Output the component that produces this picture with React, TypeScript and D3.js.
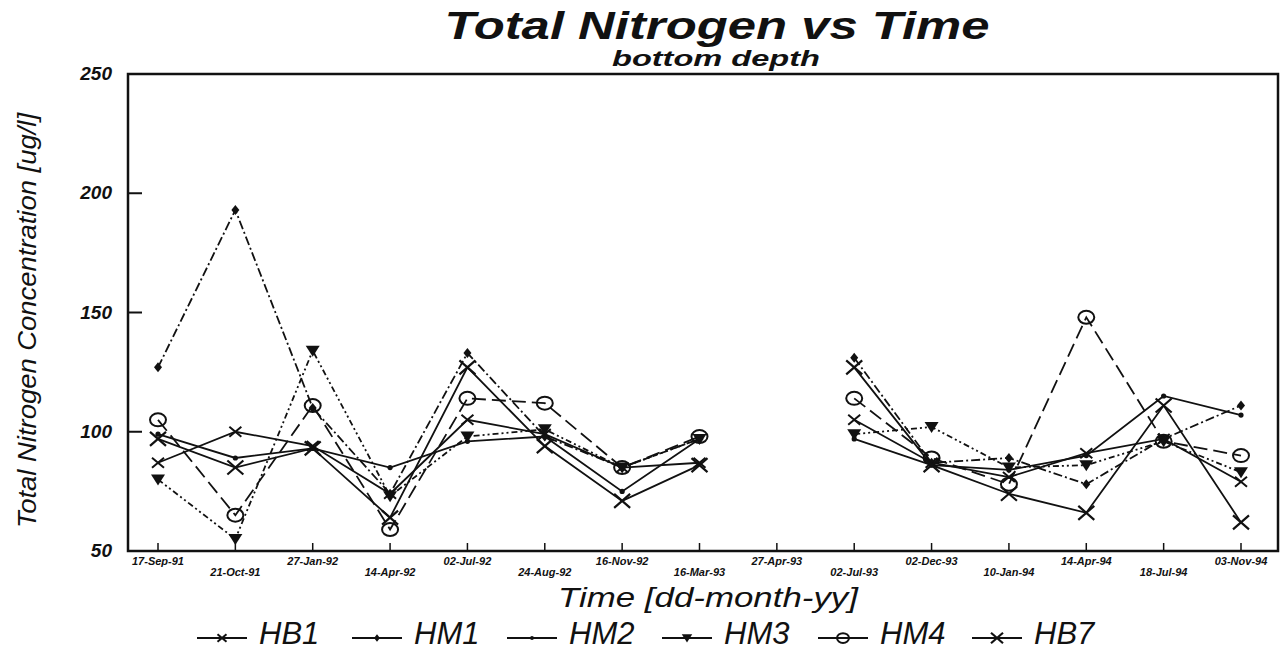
import React from 'react';
import * as d3 from 'd3';

const dates = [
    '17-Sep-91', '21-Oct-91', '27-Jan-92', '14-Apr-92', '02-Jul-92',
    '24-Aug-92', '16-Nov-92', '16-Mar-93', '27-Apr-93', '02-Jul-93',
    '02-Dec-93', '10-Jan-94', '14-Apr-94', '18-Jul-94', '03-Nov-94',
];

const hb1 = [87, 100, 94, 74, 105, 99, 85, 87, null, 105, 87, 81, 91, 97, 79];
const hm1 = [127, 193, 110, 74, 133, 98, 85, 97, null, 131, 87, 89, 78, 97, 111];
const hm2 = [99, 89, 93, 85, 96, 98, 75, 97, null, 97, 86, 84, 90, 115, 107];
const hm3 = [80, 55, 134, 73, 98, 101, 85, 97, null, 99, 102, 85, 86, 96, 83];
const hm4 = [105, 65, 111, 59, 114, 112, 85, 98, null, 114, 89, 78, 148, 96, 90];
const hb7 = [97, 85, 93, 64, 127, 94, 71, 86, null, 127, 86, 74, 66, 111, 62];

const seriesNames = ['HB1', 'HM1', 'HM2', 'HM3', 'HM4', 'HB7'];
const seriesValues = [hb1, hm1, hm2, hm3, hm4, hb7];
const yTicks = [50, 100, 150, 200, 250];

// line dash + marker per series
const dashes = ['', '9,3,2,3', '', '6,3,2,3,2,3', '14,6', ''];
const markers = ['x', 'diamond', 'dot', 'tri', 'circle', 'X'];

const font = '"Liberation Sans", Arial, sans-serif';

const Marker: React.FC<{ kind: string; x: number; y: number; small?: boolean }> = ({ kind, x, y, small }) => {
    const stroke = '#111';
    const k = small ? 0.75 : 1;
    switch (kind) {
        case 'x':
            return <path d={`M${x - 6 * k},${y - 5 * k}L${x + 6 * k},${y + 5 * k}M${x - 6 * k},${y + 5 * k}L${x + 6 * k},${y - 5 * k}`} stroke={stroke} strokeWidth={2} />;
        case 'X':
            return <path d={`M${x - 8 * k},${y - 7 * k}L${x + 8 * k},${y + 7 * k}M${x - 8 * k},${y + 7 * k}L${x + 8 * k},${y - 7 * k}`} stroke={stroke} strokeWidth={2.2} />;
        case 'diamond':
            return <path d={`M${x},${y - 5 * k}L${x + 4 * k},${y}L${x},${y + 5 * k}L${x - 4 * k},${y}Z`} fill={stroke} />;
        case 'dot':
            return <circle cx={x} cy={y} r={2.6 * k} fill={stroke} />;
        case 'tri':
            return <path d={`M${x - 7 * k},${y - 5 * k}L${x + 7 * k},${y - 5 * k}L${x},${y + 6 * k}Z`} fill={stroke} />;
        case 'circle':
            return <ellipse cx={x} cy={y} rx={8 * k} ry={6.5 * k} fill="none" stroke={stroke} strokeWidth={2} />;
        default:
            return null;
    }
};

export default function App() {
    const width = 1286;
    const height = 656;
    const left = 128, right = 1278, top = 74, bottom = 551;

    const x = d3.scalePoint<string>().domain(dates).range([158, 1241]);
    const y = d3.scaleLinear().domain([50, 250]).range([bottom, top]);

    const line = d3.line<number | null>()
        .defined(d => d !== null)
        .x((_, i) => x(dates[i]) as number)
        .y(d => y(d as number));

    const legendX = [197, 352, 507, 662, 818, 972];

    return (
        <svg width={width} height={height} style={{ position: 'absolute', left: 0, top: 0, background: 'white' }}>
            {/* titles */}
            <text x={717} y={39} textAnchor="middle" fontFamily={font} fontSize={38} fontWeight="bold" fontStyle="italic" fill="#111"
                textLength={545} lengthAdjust="spacingAndGlyphs">
                Total Nitrogen vs Time
            </text>
            <text x={716} y={66} textAnchor="middle" fontFamily={font} fontSize={22} fontWeight="bold" fontStyle="italic" fill="#111"
                textLength={208} lengthAdjust="spacingAndGlyphs">
                bottom depth
            </text>

            {/* frame */}
            <rect x={left} y={top} width={right - left} height={bottom - top} fill="none" stroke="#111" strokeWidth={2.5} />

            {/* y axis */}
            {yTicks.map(t => (
                <g key={t}>
                    {t !== 50 && t !== 250 && (
                        <line x1={left} x2={left + 14} y1={y(t)} y2={y(t)} stroke="#111" strokeWidth={2} />
                    )}
                    <text x={112} y={y(t) + 6} textAnchor="end" fontFamily={font} fontSize={19} fontWeight="bold" fontStyle="italic" fill="#111">
                        {t}
                    </text>
                </g>
            ))}
            <text
                transform={`translate(36,${(top + bottom) / 2 + 8}) rotate(-90)`}
                textAnchor="middle"
                fontFamily={font}
                fontSize={26}
                fontStyle="italic"
                fill="#111"
                textLength={415}
                lengthAdjust="spacingAndGlyphs"
            >
                Total Nitrogen Concentration [ug/l]
            </text>

            {/* x axis */}
            {dates.map((d, i) => (
                <g key={d}>
                    <line x1={x(d)} x2={x(d)} y1={bottom} y2={bottom - 8} stroke="#111" strokeWidth={1.5} />
                    <text x={x(d)} y={i % 2 === 0 ? 565 : 576} textAnchor="middle" fontFamily={font} fontSize={11} fontWeight="bold" fontStyle="italic" fill="#111">
                        {d}
                    </text>
                </g>
            ))}
            <text x={708} y={607} textAnchor="middle" fontFamily={font} fontSize={28} fontStyle="italic" fill="#111"
                textLength={300} lengthAdjust="spacingAndGlyphs">
                Time [dd-month-yy]
            </text>

            {/* series */}
            {seriesValues.map((vals, s) => (
                <g key={seriesNames[s]}>
                    <path d={line(vals) || ''} fill="none" stroke="#111" strokeWidth={1.8} strokeDasharray={dashes[s]} />
                    {vals.map((v, i) => v === null ? null : (
                        <Marker key={i} kind={markers[s]} x={x(dates[i]) as number} y={y(v)} />
                    ))}
                </g>
            ))}

            {/* legend */}
            {seriesNames.map((name, s) => {
                const lx = legendX[s];
                const ly = 638;
                return (
                    <g key={name}>
                        <line x1={lx} x2={lx + 50} y1={ly} y2={ly} stroke="#111" strokeWidth={1.8} />
                        <Marker kind={markers[s]} x={lx + 25} y={ly} small />
                        <text x={lx + 62} y={ly + 6} fontFamily={font} fontSize={31} fontStyle="italic" fill="#111">
                            {name}
                        </text>
                    </g>
                );
            })}
        </svg>
    );
}
